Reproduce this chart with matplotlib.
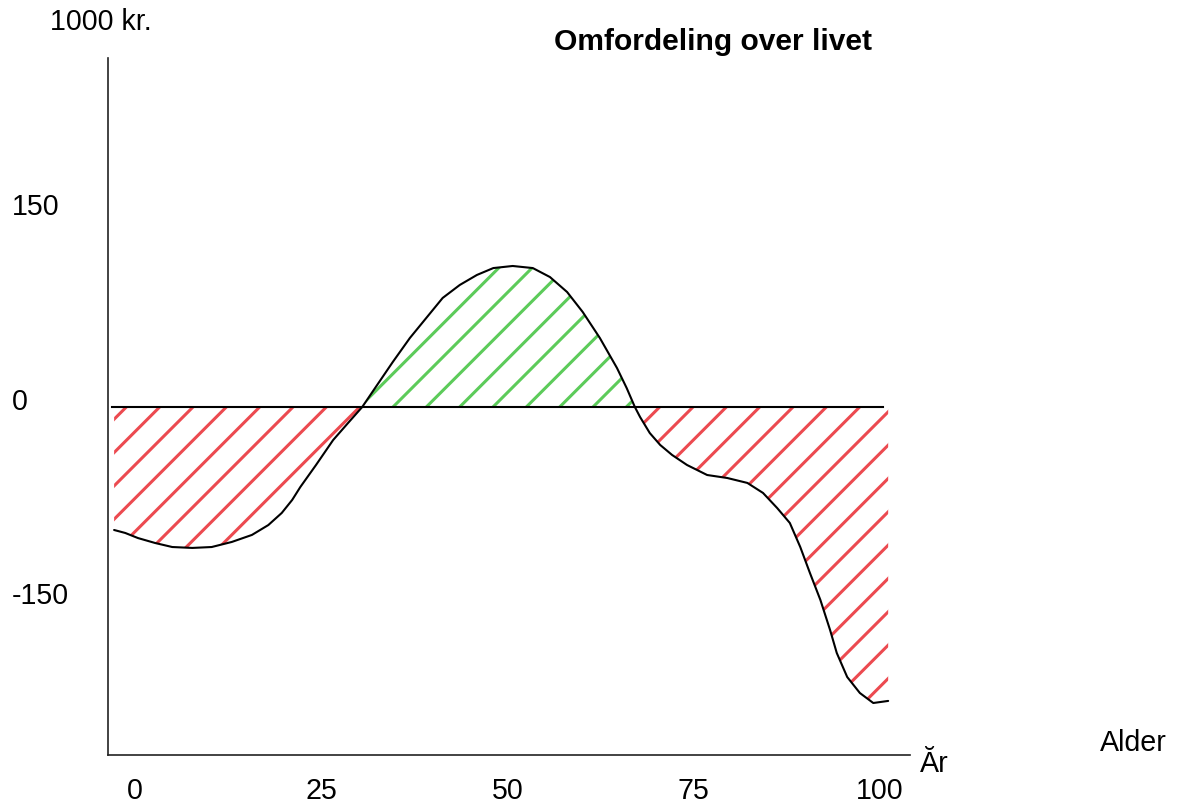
import matplotlib
matplotlib.use("Agg")
import matplotlib.pyplot as plt
import matplotlib.transforms as mtransforms
import numpy as np

# ---- data (age in years, value in 1000 kr.) ----
age = [-2.8, -1.3, 0.4, 2.7, 5.0, 7.7, 10.3, 13.0, 15.7, 17.9, 19.7, 21.1,
       22.2, 24.3, 26.6, 28.6, 30.5, 32.5, 34.6, 36.9, 39.2, 41.3, 43.6, 45.9,
       48.1, 50.7, 53.4, 55.7, 58.0, 60.1, 62.4, 64.7, 66.0, 67.1, 67.8, 69.1,
       70.5, 72.1, 74.1, 76.8, 79.5, 82.2, 84.3, 86.2, 87.9, 89.3, 90.6, 92.0,
       93.3, 94.2, 95.6, 97.3, 99.1, 101.1]
value = [-95.0, -97.3, -101.2, -105.0, -108.1, -108.8, -108.1, -104.2, -98.8,
         -91.2, -81.9, -71.9, -61.9, -45.0, -25.8, -12.7, -0.4, 16.5, 34.2,
         52.7, 68.8, 83.5, 93.5, 101.2, 106.5, 108.1, 106.5, 99.6, 88.1, 72.7,
         52.7, 29.6, 14.2, -0.4, -8.1, -20.4, -29.6, -37.3, -45.0, -52.7, -55.0,
         -58.8, -66.5, -78.1, -89.6, -108.1, -128.1, -148.8, -171.9, -189.6,
         -208.1, -220.4, -228.1, -226.5]
x_ticks = [0, 25, 50, 75, 100]
y_ticks = [150, 0, -150]
y_ticklabels = ["150", "0", "-150"]

RED = "#ec4a50"
GREEN = "#5ccb5a"
DPI = 200
W, H = 1177, 807

plt.rcParams["font.family"] = ["Liberation Sans", "DejaVu Sans"]
plt.rcParams["hatch.linewidth"] = 1.1

fig = plt.figure(figsize=(W / DPI, H / DPI), dpi=DPI)
ax = fig.add_axes([108 / W, 1 - 755 / H, 802 / W, 697 / H])
ax.set_xlim(-3.62, 104.03)
ax.set_ylim(-268.1, 268.1)

a = np.array(age)
v = np.array(value)

ax.fill_between(a, v, 0, where=v <= 0, interpolate=True, facecolor="none",
                edgecolor=RED, hatch="//", linewidth=0)
ax.fill_between(a, v, 0, where=v >= 0, interpolate=True, facecolor="none",
                edgecolor=GREEN, hatch="//", linewidth=0)

ax.axhline(0, xmin=4 / 802, xmax=775 / 802, color="black", lw=0.75)
ax.plot(a, v, color="black", lw=0.75, solid_capstyle="round",
        solid_joinstyle="round")

for s in ["top", "right"]:
    ax.spines[s].set_visible(False)
for s in ["left", "bottom"]:
    ax.spines[s].set_color("#222222")
    ax.spines[s].set_linewidth(0.6)

FS = 10.3
ax.set_xticks(x_ticks)
ax.set_xticklabels([str(t) for t in x_ticks])
ax.set_yticks(y_ticks)
ax.set_yticklabels(y_ticklabels)
ax.tick_params(axis="both", length=0, labelsize=FS, colors="black")
ax.tick_params(axis="x", pad=8.0)
ax.tick_params(axis="y", pad=34.5)
offset = mtransforms.ScaledTranslation(0, 8 / DPI, fig.dpi_scale_trans)
for lab in ax.get_yticklabels():
    lab.set_horizontalalignment("left")
    lab.set_transform(lab.get_transform() + offset)

fig.text(50 / W, 1 - 22 / H, "1000 kr.", ha="left", va="center", fontsize=FS)
fig.text(713 / W, 1 - 42 / H, "Omfordeling over livet", ha="center",
         va="center", fontsize=10.8, fontweight="bold")
fig.text(1100 / W, 1 - 743 / H, "Alder", ha="left", va="center", fontsize=FS)
fig.text(920 / W, 1 - 764 / H, "Ăr", ha="left", va="center", fontsize=FS)

fig.savefig("out.png", dpi=DPI)
